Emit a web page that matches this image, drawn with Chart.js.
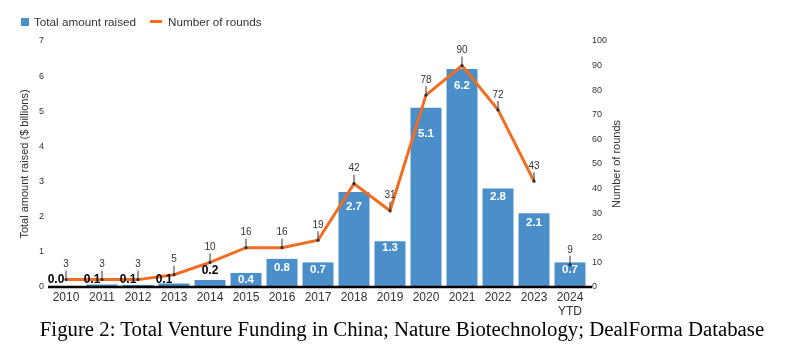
<!DOCTYPE html>
<html>
<head>
<meta charset="utf-8">
<script src="https://cdn.jsdelivr.net/npm/chart.js@4"></script>
<style>
  html, body { margin: 0; padding: 0; background: #fff; }
  #wrap { position: relative; width: 800px; height: 357px; overflow: hidden; }
  #chart { position: absolute; left: 0; top: 0; }
  .legend { position: absolute; top: 15px; left: 21px; font: 11.7px "Liberation Sans", Arial, sans-serif; color: #333; display: flex; align-items: center; }
  .legend .sw { display: inline-block; width: 8px; height: 8px; background: #4a8fc9; margin-right: 5px; }
  .legend .ln { display: inline-block; width: 12px; height: 3px; background: #f06d22; margin: 0 6px 0 14px; }
  #caption { position: absolute; left: 0; width: 804px; top: 317px; line-height: 24px; text-align: center; font-size: 20.8px; font-family: "Liberation Serif", "Times New Roman", serif; color: #000; white-space: nowrap; }
</style>
</head>
<body>
<div id="wrap">
  <canvas id="chart" width="800" height="357"></canvas>
  <div class="legend"><span class="sw"></span><span>Total amount raised</span><span class="ln"></span><span>Number of rounds</span></div>
  <div id="caption">Figure 2: Total Venture Funding in China; Nature Biotechnology; DealForma Database</div>
</div>
<script>
const years = ['2010','2011','2012','2013','2014','2015','2016','2017','2018','2019','2020','2021','2022','2023',['2024','YTD']];
const amountRaised = [0.03, 0.07, 0.06, 0.1, 0.2, 0.4, 0.8, 0.7, 2.7, 1.3, 5.1, 6.2, 2.8, 2.1, 0.7];
const rounds = [3, 3, 3, 5, 10, 16, 16, 19, 42, 31, 78, 90, 72, 43, 9];
const amountMax = 7;
const roundsMax = 100;

const BLUE = '#4a8fc9';
const ORANGE = '#f06d22';
const INK = '#333';
const FAMILY = '"Liberation Sans", Arial, sans-serif';

// label placement style (pixels below bar top for white labels)
const insideOffset = [8, 8, 8, 8, 8, 7, 9, 7, 15, 7, 26, 17, 8, 10, 7];

const labelPlugin = {
  id: 'labels',
  afterDatasetsDraw(chart) {
    const ctx = chart.ctx;
    const area = chart.chartArea;
    const barMeta = chart.getDatasetMeta(0);
    const lineMeta = chart.getDatasetMeta(1);
    const yScale = chart.scales.y;
    ctx.save();
    // baseline
    const base = yScale.getPixelForValue(0);
    ctx.strokeStyle = '#000';
    ctx.lineWidth = 2.5;
    ctx.beginPath();
    ctx.moveTo(area.left, base);
    ctx.lineTo(area.right + 4, base);
    ctx.stroke();

    // bar labels
    ctx.textAlign = 'center';
    ctx.textBaseline = 'middle';
    barMeta.data.forEach((bar, i) => {
      const v = amountRaised[i];
      const txt = v.toFixed(1);
      if (v >= 0.4) {
        ctx.fillStyle = '#fff';
        ctx.font = 'bold 11.5px ' + FAMILY;
        ctx.fillText(txt, bar.x, bar.y + insideOffset[i]);
      } else {
        ctx.fillStyle = '#000';
        ctx.font = 'bold 12px ' + FAMILY;
        const dx = i < 4 ? -10 : 0;
        ctx.fillText(txt, bar.x + dx, base - 7 - (i === 4 ? 9 : 0));
      }
    });

    // line markers
    lineMeta.data.forEach((pt, i) => {
      ctx.strokeStyle = INK;
      ctx.lineWidth = 1;
      ctx.beginPath();
      ctx.moveTo(pt.x, pt.y - 9);
      ctx.lineTo(pt.x, pt.y);
      ctx.stroke();
      ctx.fillStyle = INK;
      ctx.beginPath();
      ctx.arc(pt.x, pt.y, 1.6, 0, Math.PI * 2);
      ctx.fill();
      ctx.font = '10px ' + FAMILY;
      ctx.fillText(String(rounds[i]), pt.x, pt.y - 15);
    });

    // right axis title (reads bottom to top)
    ctx.save();
    ctx.translate(617, (area.top + area.bottom) / 2);
    ctx.rotate(-Math.PI / 2);
    ctx.fillStyle = INK;
    ctx.font = '11px ' + FAMILY;
    ctx.fillText('Number of rounds', 0, 0);
    ctx.restore();

    ctx.restore();
  }
};

new Chart(document.getElementById('chart'), {
  data: {
    labels: years,
    datasets: [
      {
        type: 'bar',
        label: 'Total amount raised',
        data: amountRaised,
        backgroundColor: BLUE,
        yAxisID: 'y',
        barPercentage: 0.86,
        categoryPercentage: 1.0,
        order: 2
      },
      {
        type: 'line',
        label: 'Number of rounds',
        data: rounds,
        borderColor: ORANGE,
        borderWidth: 3,
        pointRadius: 0,
        tension: 0,
        yAxisID: 'y1',
        order: 1,
        segment: {
          borderColor: c => c.p1DataIndex === rounds.length - 1 ? 'rgba(0,0,0,0)' : undefined
        }
      }
    ]
  },
  options: {
    responsive: false,
    devicePixelRatio: 1,
    animation: false,
    layout: { padding: { left: 0, right: 167, top: 41, bottom: 40 } },
    plugins: { legend: { display: false }, tooltip: { enabled: false } },
    scales: {
      x: {
        offset: true,
        grid: { display: false, drawTicks: false },
        border: { display: false },
        ticks: { color: INK, font: { size: 12, family: FAMILY }, padding: 3, maxRotation: 0, autoSkip: false },
        afterFit(s) { s.height = 30; }
      },
      y: {
        position: 'left',
        min: 0, max: amountMax,
        grid: { display: false, drawTicks: false },
        border: { display: false },
        ticks: { stepSize: 1, color: INK, padding: 4, font: { size: 9, family: FAMILY } },
        title: { display: true, text: 'Total amount raised ($ billions)', color: INK, padding: { top: 18, bottom: 0 }, font: { size: 11, family: FAMILY } },
        afterFit(s) { s.width = 48; }
      },
      y1: {
        position: 'right',
        min: 0, max: roundsMax,
        grid: { display: false, drawTicks: false },
        border: { display: false },
        ticks: { stepSize: 10, color: INK, padding: 4, font: { size: 9, family: FAMILY } },
        afterFit(s) { s.width = 45; }
      }
    }
  },
  plugins: [labelPlugin]
});
</script>
</body>
</html>
